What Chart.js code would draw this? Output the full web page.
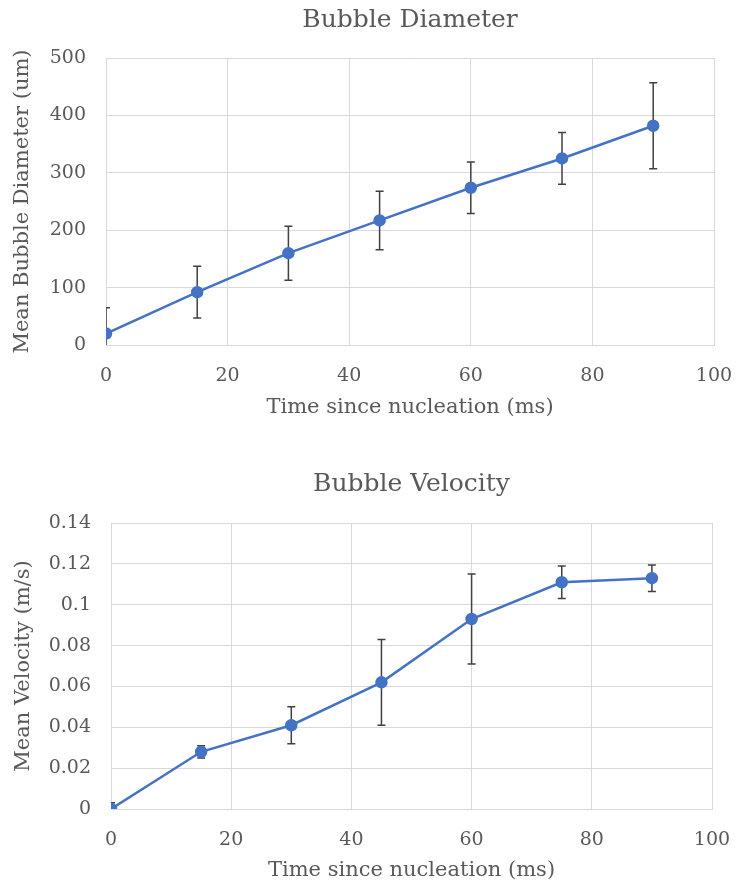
<!DOCTYPE html>
<html>
<head>
<meta charset="utf-8">
<script src="https://cdn.jsdelivr.net/npm/chart.js@4"></script>
<style>
  body { margin: 0; background: #fff; }
  .box { position: absolute; left: 0; width: 737px; }
  #box1 { top: 0; height: 436px; }
  #box2 { top: 462px; height: 428px; }
</style>
</head>
<body>
<div class="box" id="box1"><canvas id="diameterChart"></canvas></div>
<div class="box" id="box2"><canvas id="velocityChart"></canvas></div>
<script>
const timeMs = [0, 15, 30, 45, 60, 75, 90];

const diameterMean = [20, 92, 160, 217, 274, 325, 382];
const diameterErr = [45, 45, 47, 51, 45, 45, 75];

const velocityMean = [0, 0.028, 0.041, 0.062, 0.093, 0.111, 0.113];
const velocityErr = [0.003, 0.003, 0.009, 0.021, 0.022, 0.008, 0.0065];

const textColor = '#595959';
const gridColor = '#d9d9d9';
const lineColor = '#4472c4';
const fontName = '"DejaVu Serif", serif';

// error bars drawn with the chart's own scales, under the line
const errorBars = {
    id: 'errorBars',
    beforeDatasetsDraw(chart, args, opts) {
        const ctx = chart.ctx;
        const xs = chart.scales.x;
        const ys = chart.scales.y;
        const area = chart.chartArea;
        const ds = chart.data.datasets[0];
        ctx.save();
        ctx.beginPath();
        ctx.rect(area.left, area.top, area.right - area.left, area.bottom - area.top);
        ctx.clip();
        ctx.strokeStyle = '#404040';
        ctx.lineWidth = 1.5;
        for (let i = 0; i < ds.data.length; i++) {
            const p = ds.data[i];
            const e = opts.errors[i];
            const x = xs.getPixelForValue(p.x);
            const yTop = ys.getPixelForValue(p.y + e);
            const yBot = ys.getPixelForValue(p.y - e);
            ctx.beginPath();
            ctx.moveTo(x, yTop); ctx.lineTo(x, yBot);
            ctx.moveTo(x - 4, yTop); ctx.lineTo(x + 4, yTop);
            ctx.moveTo(x - 4, yBot); ctx.lineTo(x + 4, yBot);
            ctx.stroke();
        }
        ctx.restore();
    }
};

function makeChart(id, title, yTitle, means, errors, yMax, yStep, cfg) {
    const points = [];
    for (let i = 0; i < timeMs.length; i++) {
        points.push({ x: timeMs[i], y: means[i] });
    }
    return new Chart(document.getElementById(id), {
        type: 'scatter',
        data: {
            datasets: [{
                data: points,
                showLine: true,
                borderColor: lineColor,
                backgroundColor: lineColor,
                borderWidth: 2.5,
                pointRadius: 5,
                pointHoverRadius: 5
            }]
        },
        options: {
            responsive: true,
            maintainAspectRatio: false,
            animation: false,
            layout: { padding: cfg.padding },
            plugins: {
                legend: { display: false },
                tooltip: { enabled: false },
                title: {
                    display: true,
                    fullSize: false,
                    text: title,
                    color: textColor,
                    font: { family: fontName, size: 25, weight: 'normal' },
                    padding: { top: 0, bottom: cfg.titleGap }
                },
                errorBars: { errors: errors }
            },
            scales: {
                x: {
                    min: 0, max: 100,
                    afterFit: function (scale) {
                        scale.height = cfg.xHeight;
                        scale.paddingLeft = 0;
                        scale.paddingRight = 0;
                    },
                    ticks: { stepSize: 20, color: textColor, font: { family: fontName, size: 19 }, padding: 20 },
                    grid: { color: gridColor, drawTicks: false },
                    border: { color: gridColor },
                    title: { display: true, text: 'Time since nucleation (ms)', color: textColor,
                             font: { family: fontName, size: 21 }, padding: { top: 4, bottom: 4 } }
                },
                y: {
                    min: 0, max: yMax,
                    afterFit: function (scale) {
                        scale.width = cfg.yWidth;
                        scale.paddingTop = 0;
                        scale.paddingBottom = 0;
                    },
                    ticks: {
                        stepSize: yStep, color: textColor, font: { family: fontName, size: 19 }, padding: 20,
                        callback: function (v) { return String(parseFloat(v.toFixed(2))); }
                    },
                    grid: { color: gridColor, drawTicks: false },
                    border: { color: gridColor },
                    title: { display: true, text: yTitle, color: textColor,
                             font: { family: fontName, size: 21 }, padding: { top: 0, bottom: 0 } }
                }
            }
        },
        plugins: [errorBars]
    });
}

makeChart('diameterChart', 'Bubble Diameter', 'Mean Bubble Diameter (um)',
    diameterMean, diameterErr, 500, 100,
    { padding: { left: 10, right: 23, top: 5, bottom: 12 }, titleGap: 23, xHeight: 79, yWidth: 96 });
makeChart('velocityChart', 'Bubble Velocity', 'Mean Velocity (m/s)',
    velocityMean, velocityErr, 0.14, 0.02,
    { padding: { left: 11, right: 25, top: 7, bottom: 3 }, titleGap: 24, xHeight: 78, yWidth: 100 });
</script>
</body>
</html>
